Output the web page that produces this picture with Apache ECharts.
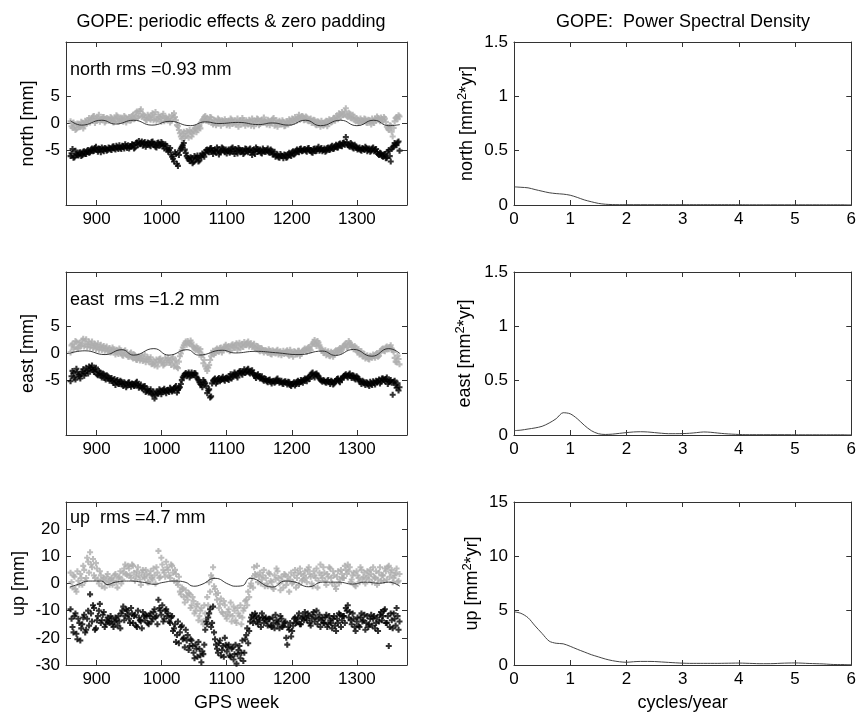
<!DOCTYPE html>
<html>
<head>
<meta charset="utf-8">
<script src="https://cdn.jsdelivr.net/npm/echarts@6/dist/echarts.min.js"></script>
<style>
html,body{margin:0;padding:0;background:#fff;}
#chart{width:859px;height:713px;}
</style>
</head>
<body>
<div id="chart"></div>
<script>
// ---------- DATA ----------
const weekStart = 860;    // first GPS week of sample set A
const weekStart2 = 861.5; // first GPS week of sample set B
const weekStep = 3;       // sampling step (weeks)
const weekTicks = [900, 1000, 1100, 1200, 1300];

const northGray = [
 0.4,-0.8,-0.3,-1.0,-0.2,-0.6,0.1,-0.4,0.3,0.6,
 0.2,0.9,1.4,0.5,1.1,0.3,0.8,1.2,0.4,0.9,
 0.6,1.0,0.2,0.8,1.3,0.5,0.9,0.3,1.1,0.7,
 1.2,0.6,1.6,0.9,2.2,1.4,2.6,1.8,1.0,0.6,
 1.3,0.7,1.9,1.2,0.5,1.6,0.9,1.4,0.4,1.1,
 0.8,0.2,1.5,1.9,0.6,-0.5,-1.8,-2.8,-1.5,-2.3,
 -1.9,-1.2,-2.4,-1.4,-0.8,-1.2,-0.5,0.2,0.8,1.4,
 0.9,0.3,1.1,-0.2,0.5,0.0,0.7,-0.4,0.3,0.8,
 -0.3,0.4,0.9,-0.1,0.6,0.2,-0.6,0.5,1.0,0.1,
 0.6,-0.2,0.3,0.9,-0.5,0.4,0.8,-0.1,0.5,1.1,
 0.2,0.7,-0.3,0.4,1.0,0.1,-0.6,0.5,-0.2,0.3,
 -0.4,0.2,0.8,0.1,0.6,1.2,0.5,1.6,0.9,1.3,
 0.7,1.1,0.4,0.9,0.2,0.6,-0.3,0.3,-0.6,0.1,
 -0.2,0.5,0.0,0.6,0.3,1.0,1.4,0.8,1.7,2.1,
 1.6,2.8,1.2,1.8,0.9,1.3,0.4,0.8,0.1,0.6,
 0.3,0.8,0.1,0.6,-0.2,0.4,0.9,1.3,0.7,1.1,
 0.5,0.9,-0.6,-1.2,-0.4,-2.4,0.4,1.2,1.5
];
const northGray2 = [
 -0.5,0.2,-1.2,0.0,-0.7,0.3,-0.9,0.5,0.0,1.0,
 0.6,1.3,0.1,0.8,1.6,0.7,1.2,0.2,1.0,0.5,
 1.2,0.4,0.9,1.5,0.3,1.1,0.6,1.4,0.2,0.9,
 0.5,1.4,0.8,2.0,1.1,2.3,1.2,1.5,0.7,1.6,
 0.9,1.5,0.6,2.1,0.8,1.2,0.3,1.8,1.0,0.6,
 1.3,0.5,1.0,1.2,-0.3,-1.2,-2.4,-1.9,-2.6,-1.4,
 -2.6,-1.6,-1.9,-0.9,-1.6,-0.4,-0.9,0.6,1.2,0.5,
 0.4,1.2,0.2,0.7,-0.3,0.9,0.2,0.6,0.1,0.4,
 0.3,-0.4,0.7,0.2,-0.2,0.9,0.3,-0.2,0.6,-0.4,
 0.2,0.7,-0.4,0.5,0.2,0.9,-0.3,0.6,0.1,0.4,
 -0.2,0.5,0.1,0.8,-0.4,0.6,0.2,-0.1,0.6,-0.5,
 0.4,-0.2,0.5,0.9,0.3,0.8,1.1,0.7,1.4,0.6,
 1.3,0.5,0.8,0.1,0.7,-0.2,0.4,0.0,0.5,-0.4,
 0.3,-0.5,0.8,0.2,0.9,0.5,1.1,1.9,1.2,1.5,
 2.2,1.4,2.0,1.0,1.6,0.7,1.0,0.2,0.9,0.3,
 0.9,0.2,0.7,0.3,0.9,0.1,0.6,1.0,0.4,0.8,
 1.2,0.3,-0.9,-0.3,-1.5,-0.8,1.0,0.8,1.3
];
const northBlack = [
 -6.0,-4.7,-6.2,-5.6,-5.9,-5.3,-5.8,-5.1,-5.6,-4.9,
 -5.3,-4.6,-5.0,-4.3,-5.2,-4.7,-4.4,-5.1,-4.6,-4.9,
 -4.5,-4.9,-4.2,-4.8,-4.4,-4.0,-4.7,-4.3,-3.8,-4.5,
 -4.6,-4.2,-3.9,-4.4,-3.5,-3.2,-3.7,-4.1,-3.4,-3.9,
 -3.6,-4.2,-3.3,-3.8,-4.4,-3.5,-4.0,-3.7,-4.6,-4.1,
 -5.2,-4.5,-6.1,-7.0,-5.6,-7.8,-5.0,-4.3,-3.6,-5.4,
 -6.3,-6.9,-6.4,-7.1,-6.6,-5.9,-6.8,-6.2,-5.7,-5.4,
 -4.8,-5.3,-4.5,-5.6,-5.0,-4.4,-5.7,-5.1,-4.6,-5.3,
 -5.5,-4.8,-5.2,-4.4,-5.6,-5.0,-4.5,-5.3,-4.9,-5.4,
 -4.7,-5.3,-4.6,-5.8,-5.0,-4.4,-5.2,-4.8,-5.5,-4.9,
 -5.2,-4.6,-5.4,-5.0,-5.6,-6.1,-5.7,-6.3,-5.9,-6.4,
 -5.8,-6.2,-5.4,-6.0,-5.1,-5.5,-4.8,-5.3,-4.6,-5.0,
 -4.7,-5.2,-4.5,-4.9,-5.4,-4.6,-5.0,-4.3,-4.8,-5.1,
 -4.6,-5.0,-4.4,-4.8,-4.1,-4.6,-3.9,-4.4,-3.7,-4.2,
 -3.5,-2.5,-3.9,-4.3,-3.8,-4.6,-4.2,-4.8,-4.4,-5.0,
 -4.7,-4.3,-5.1,-4.6,-5.0,-4.4,-4.9,-5.3,-5.8,-5.5,
 -6.1,-5.6,-6.3,-4.9,-7.0,-4.4,-3.6,-4.0,-3.3
];
const northBlack2 = [
 -5.5,-6.3,-5.0,-5.8,-5.4,-6.0,-5.2,-5.6,-5.0,-5.4,
 -4.8,-5.1,-4.5,-4.9,-4.6,-5.3,-4.8,-4.5,-5.0,-4.4,
 -4.8,-4.3,-4.6,-4.1,-4.7,-4.5,-4.1,-4.6,-4.2,-4.0,
 -4.3,-3.8,-4.6,-3.6,-4.0,-3.8,-3.3,-3.6,-4.3,-3.5,
 -4.0,-3.4,-3.9,-4.3,-3.6,-4.1,-3.4,-4.2,-3.8,-4.8,
 -4.9,-5.7,-6.5,-5.3,-7.4,-5.8,-4.6,-4.0,-4.8,-6.0,
 -6.6,-6.2,-7.3,-6.0,-6.3,-7.0,-6.0,-5.5,-6.1,-4.9,
 -5.2,-4.6,-5.1,-4.9,-5.4,-4.8,-5.3,-4.4,-5.0,-4.8,
 -5.0,-5.4,-4.6,-5.1,-4.7,-5.5,-4.8,-5.0,-5.6,-4.6,
 -5.1,-4.8,-5.3,-4.9,-5.6,-4.7,-5.0,-5.4,-4.6,-5.2,
 -4.9,-5.3,-4.8,-5.7,-5.2,-5.9,-6.2,-5.6,-6.0,-5.7,
 -6.3,-5.6,-5.8,-5.3,-5.7,-5.0,-5.2,-4.7,-5.1,-4.8,
 -5.0,-4.6,-5.0,-5.3,-4.7,-5.1,-4.6,-5.0,-4.5,-4.9,
 -5.2,-4.5,-4.9,-4.3,-4.7,-4.2,-4.4,-3.8,-4.1,-3.6,
 -3.9,-3.4,-4.1,-3.6,-4.4,-3.9,-4.5,-4.6,-4.9,-4.5,
 -4.9,-4.5,-4.8,-5.2,-4.6,-5.1,-4.7,-5.6,-5.4,-6.0,
 -5.7,-6.4,-5.2,-6.0,-4.7,-4.1,-3.9,-3.5,-5.0
];
const eastGray = [
 0.2,1.8,1.2,2.1,0.9,1.6,2.4,1.3,2.6,1.7,
 1.1,2.2,1.5,0.8,1.9,1.2,0.6,1.4,0.9,0.4,
 1.0,0.3,0.8,-0.2,0.5,0.9,0.1,-0.4,0.6,-0.3,
 -0.6,0.2,-0.9,-0.3,-1.2,-0.5,-0.8,-1.4,-0.2,-1.0,
 -1.5,-0.7,-1.9,-2.2,-1.1,-1.7,-0.9,-1.4,-2.0,-1.2,
 -0.8,-1.6,-1.0,-2.4,-1.3,-2.7,-0.5,0.6,1.5,2.2,
 2.3,1.7,2.0,1.2,0.6,1.0,0.3,-0.6,-1.8,-2.4,
 -3.2,-2.1,-0.5,0.5,0.1,0.9,0.3,1.1,0.6,1.3,
 0.8,1.4,0.6,1.7,1.0,1.9,1.3,0.9,1.8,2.1,
 1.5,2.2,1.7,1.2,1.8,0.8,1.3,0.4,0.9,0.2,
 0.6,0.1,0.5,-0.2,0.4,0.0,0.7,0.2,-0.3,0.5,
 0.1,0.6,-0.4,0.2,-0.6,0.3,-0.2,0.5,-0.1,0.4,
 0.9,0.3,1.2,0.6,1.8,2.5,1.4,2.0,1.1,0.5,
 0.2,-0.3,0.4,-0.5,0.1,-0.2,0.6,0.3,1.0,0.7,
 1.4,1.9,1.2,2.0,1.5,0.8,1.1,0.3,-0.2,0.4,
 -0.5,-0.9,-0.3,-1.1,-0.6,-0.2,-0.8,0.1,-0.4,0.5,
 0.9,0.4,1.3,0.8,1.5,0.6,-0.8,-1.6,-1.0
];
const eastGray2 = [
 1.5,0.8,2.3,1.0,2.0,1.4,2.7,1.9,1.2,2.2,
 1.6,1.0,1.8,1.3,0.7,1.6,1.0,0.5,1.3,0.7,
 0.2,1.1,0.4,0.7,-0.1,0.6,-0.3,0.4,0.0,-0.6,
 0.0,-0.7,-0.2,-1.1,-0.6,-1.3,-0.4,-1.0,-1.6,-0.7,
 -1.1,-2.0,-1.3,-1.6,-2.4,-1.0,-1.6,-2.2,-0.8,-1.7,
 -1.3,-2.1,-0.7,-1.8,-2.5,-1.5,0.0,1.1,1.9,1.6,
 1.9,2.4,1.4,0.9,1.3,0.5,0.8,-0.2,-1.2,-2.8,
 -2.6,-1.2,0.0,-0.2,0.7,0.4,1.0,0.2,0.9,1.6,
 1.2,0.4,1.5,1.1,1.6,0.7,2.0,1.5,1.2,1.6,
 2.0,1.3,1.9,1.5,1.0,1.4,0.6,1.0,0.5,0.6,
 0.3,0.8,-0.1,0.6,0.2,0.5,-0.2,0.4,0.1,-0.1,
 0.4,-0.2,0.7,-0.1,0.4,0.0,0.5,-0.4,0.3,0.7,
 0.5,1.0,0.8,1.5,2.1,1.7,2.3,1.5,0.8,0.1,
 0.6,0.0,-0.4,0.3,-0.6,0.4,0.1,0.8,0.4,1.2,
 1.7,1.1,2.3,1.6,1.2,1.4,0.5,0.8,0.0,-0.5,
 -0.1,-0.7,-1.0,-0.4,-0.8,-0.5,-0.1,-0.6,0.2,0.8,
 0.5,1.1,0.9,1.2,0.9,0.3,-1.5,-0.4,-2.0
];
const eastBlack = [
 -5.1,-3.2,-4.4,-2.8,-3.9,-4.6,-3.3,-4.1,-2.6,-3.7,
 -3.0,-2.2,-3.4,-2.6,-4.0,-3.5,-4.4,-3.8,-4.8,-4.2,
 -5.0,-4.5,-5.4,-5.8,-4.9,-5.6,-5.2,-6.0,-5.5,-5.9,
 -5.3,-6.1,-5.6,-5.9,-5.2,-6.3,-5.7,-6.5,-6.0,-6.8,
 -7.2,-6.6,-7.6,-8.3,-7.0,-7.4,-6.8,-7.1,-6.5,-7.3,
 -6.8,-6.3,-7.0,-6.5,-6.0,-6.7,-6.2,-4.9,-4.1,-3.6,
 -3.8,-4.4,-3.5,-4.0,-3.7,-4.6,-5.3,-5.8,-4.9,-5.5,
 -7.3,-6.6,-7.9,-5.0,-4.6,-5.2,-4.5,-4.9,-4.3,-5.0,
 -4.4,-4.9,-3.8,-4.3,-3.5,-4.1,-3.6,-3.2,-3.9,-2.9,
 -3.4,-2.8,-3.7,-3.1,-3.9,-4.5,-3.8,-4.6,-4.2,-5.0,
 -4.7,-5.3,-4.8,-5.5,-5.0,-5.2,-4.6,-5.4,-5.0,-5.6,
 -5.1,-5.7,-5.3,-6.0,-5.5,-5.9,-5.2,-5.6,-4.9,-5.4,
 -4.6,-5.1,-4.3,-4.0,-3.5,-4.4,-3.7,-4.2,-4.8,-5.2,
 -5.0,-5.4,-4.9,-5.6,-5.2,-5.5,-5.0,-4.6,-5.3,-4.8,
 -4.2,-3.8,-4.4,-3.7,-4.5,-4.1,-4.8,-4.4,-5.0,-5.6,
 -5.2,-5.8,-5.4,-6.0,-5.5,-5.1,-5.7,-5.3,-4.8,-5.2,
 -4.6,-5.1,-4.4,-5.3,-4.9,-7.6,-5.0,-6.3,-6.8
];
const eastBlack2 = [
 -4.2,-3.6,-4.8,-3.4,-4.2,-3.8,-2.9,-3.6,-3.2,-2.4,
 -2.6,-3.1,-2.9,-3.8,-3.2,-4.1,-3.7,-4.5,-4.0,-4.6,
 -4.6,-5.1,-4.7,-5.2,-5.6,-5.0,-5.7,-5.3,-6.2,-5.4,
 -5.8,-5.5,-6.0,-5.4,-5.8,-6.0,-6.4,-6.1,-7.1,-6.6,
 -6.9,-7.4,-7.0,-7.7,-7.3,-6.6,-7.5,-6.7,-7.0,-6.7,
 -7.1,-6.6,-6.8,-6.2,-7.2,-6.4,-5.6,-4.4,-3.8,-4.2,
 -3.5,-4.1,-3.9,-3.6,-4.3,-4.9,-5.6,-6.2,-5.2,-6.0,
 -6.8,-8.1,-5.5,-4.8,-5.5,-4.7,-5.1,-4.6,-4.8,-4.5,
 -4.7,-4.2,-4.6,-3.9,-3.8,-4.4,-3.3,-3.7,-3.3,-3.6,
 -3.0,-3.5,-3.3,-3.6,-4.2,-4.0,-4.3,-4.4,-4.8,-4.6,
 -5.1,-4.9,-5.2,-5.1,-5.4,-4.8,-5.1,-5.2,-5.5,-5.2,
 -5.4,-5.2,-5.8,-5.6,-5.3,-5.6,-5.0,-5.3,-5.1,-4.9,
 -4.8,-4.5,-4.7,-3.7,-4.1,-3.8,-4.0,-4.6,-5.0,-4.9,
 -5.3,-5.0,-5.3,-5.0,-5.7,-5.1,-4.7,-5.1,-4.6,-4.4,
 -4.0,-4.2,-3.9,-4.2,-4.0,-4.6,-4.2,-4.7,-5.3,-5.0,
 -5.5,-5.3,-5.7,-5.2,-5.8,-5.4,-5.0,-5.1,-5.5,-4.6,
 -4.9,-4.7,-5.6,-5.0,-5.4,-5.2,-5.8,-5.5,-6.2
];
const upGray = [
 4.0,-1.5,2.5,-3.0,1.0,3.5,-0.5,5.0,2.0,8.0,
 11.5,6.0,3.0,7.5,1.5,4.5,-1.0,2.0,0.5,3.5,
 -0.5,2.0,1.0,3.5,-1.5,2.5,0.0,4.0,7.0,3.0,
 5.5,2.0,6.5,1.0,4.5,3.0,-0.5,5.0,2.0,3.5,
 0.5,4.5,1.5,3.0,6.0,12.0,2.5,7.0,4.0,8.0,
 5.0,2.0,6.5,1.0,3.5,-0.5,-3.0,-1.5,-5.0,-2.5,
 -6.0,-4.0,-8.0,-6.5,-10.0,-7.5,-12.0,-9.0,-15.0,-11.0,
 -5.0,0.5,3.0,6.0,-2.0,-6.0,-9.0,-5.5,-11.0,-8.0,
 -13.0,-9.5,-7.0,-12.0,-10.0,-14.5,-11.0,-8.0,-12.5,-9.0,
 -6.0,-3.0,-1.0,2.0,6.0,3.0,0.5,4.0,1.5,5.0,
 2.0,-1.0,3.5,0.5,-2.0,1.5,4.5,0.0,2.5,-1.5,
 3.0,1.0,-3.0,4.0,0.5,5.0,2.0,-0.5,3.5,1.5,
 4.5,0.5,6.0,2.5,-1.0,3.0,5.5,1.0,7.0,2.0,
 4.0,-0.5,2.5,5.5,0.0,3.0,-2.0,4.5,1.5,3.5,
 2.0,5.0,7.0,6.0,1.5,4.0,-1.0,3.0,0.5,5.0,
 2.5,0.0,4.5,1.5,3.5,6.0,2.0,-0.5,4.0,1.0,
 3.0,5.5,1.5,6.5,4.0,0.5,3.0,5.5,1.0
];
const upGray2 = [
 0.5,3.0,-2.0,4.5,-0.5,2.0,6.5,1.0,9.5,4.0,
 7.0,9.0,2.0,5.5,0.0,3.0,1.5,-1.5,2.5,1.0,
 1.5,-0.5,3.0,0.5,2.0,4.5,1.5,5.5,3.5,6.5,
 3.0,7.0,4.0,2.5,6.0,1.5,4.0,2.5,5.0,0.5,
 3.0,2.0,5.5,0.0,4.0,2.0,9.5,5.0,2.5,6.0,
 3.0,7.0,4.0,5.0,0.5,2.5,-4.0,-2.0,-7.0,-4.5,
 -3.5,-9.0,-5.0,-11.0,-8.5,-13.5,-10.0,-14.0,-8.0,-13.0,
 -8.0,-3.0,2.0,-1.0,-4.0,-3.5,-7.5,-10.5,-6.5,-12.0,
 -10.5,-11.5,-14.0,-8.5,-13.5,-9.0,-12.0,-15.0,-10.0,-6.5,
 -8.0,-5.0,0.0,-1.5,3.5,6.5,2.5,0.0,3.0,-1.0,
 0.0,4.0,1.0,-1.5,3.0,5.5,2.0,-2.5,1.0,3.5,
 -0.5,2.5,1.5,0.0,3.0,-1.5,4.0,5.5,1.0,3.0,
 2.0,5.0,3.5,0.0,4.5,2.0,-1.5,4.0,3.0,6.0,
 1.0,3.5,6.0,2.0,4.5,-1.0,2.5,0.0,5.0,2.0,
 6.5,3.5,4.5,0.5,3.0,-0.5,4.5,2.0,6.0,1.5,
 4.0,2.0,3.0,5.0,0.5,2.5,4.5,1.5,6.0,3.0,
 1.0,4.5,6.0,2.5,5.0,2.0,4.0,0.5,3.5
];
const upBlack = [
 -9.5,-16.0,-12.0,-18.5,-13.0,-21.0,-15.0,-11.5,-17.0,-10.0,
 -4.0,-14.0,-9.0,-16.5,-12.0,-7.5,-13.5,-10.5,-15.0,-12.5,
 -14.5,-13.0,-16.0,-12.5,-15.5,-14.0,-11.0,-8.5,-12.0,-10.0,
 -13.0,-9.0,-14.5,-11.5,-16.0,-12.5,-14.0,-10.5,-13.5,-12.0,
 -15.0,-11.0,-13.0,-9.5,-12.0,-6.0,-10.0,-8.0,-13.0,-9.5,
 -11.0,-14.5,-12.0,-16.5,-21.5,-14.0,-18.0,-15.5,-20.0,-17.0,
 -19.0,-23.0,-21.0,-25.5,-22.5,-27.0,-24.0,-29.0,-26.0,-17.0,
 -15.0,-11.0,-16.0,-8.5,-20.5,-24.0,-22.0,-26.5,-23.0,-20.0,
 -25.0,-22.5,-27.0,-23.5,-26.0,-29.5,-24.5,-27.5,-21.0,-25.5,
 -19.0,-22.0,-14.0,-11.5,-13.0,-12.0,-15.0,-13.5,-11.0,-14.5,
 -12.5,-15.5,-13.0,-16.0,-14.5,-11.5,-15.0,-16.5,-13.0,-15.5,
 -14.0,-22.5,-17.0,-19.5,-15.5,-12.5,-14.0,-11.0,-15.0,-12.0,
 -10.5,-13.5,-12.0,-15.5,-11.5,-14.0,-10.0,-13.0,-16.0,-12.5,
 -14.5,-11.5,-15.0,-13.5,-16.5,-12.0,-17.5,-14.5,-11.5,-13.5,
 -12.0,-9.0,-8.0,-10.5,-15.0,-13.0,-17.5,-12.5,-16.0,-11.0,
 -13.5,-17.0,-12.0,-15.0,-11.5,-13.0,-16.5,-12.5,-14.0,-10.5,
 -12.0,-9.5,-14.5,-23.0,-11.0,-16.5,-13.0,-9.0,-17.0
];
const upBlack2 = [
 -13.0,-18.0,-11.0,-20.5,-14.5,-16.5,-12.5,-18.0,-13.0,-15.5,
 -11.0,-8.0,-17.0,-13.5,-10.0,-14.5,-11.5,-16.0,-13.5,-14.0,
 -12.0,-15.0,-14.0,-13.5,-12.0,-16.5,-10.0,-13.5,-9.5,-11.5,
 -14.5,-11.0,-12.0,-15.5,-10.0,-13.5,-16.5,-12.0,-11.5,-14.5,
 -12.0,-14.0,-10.5,-12.5,-15.0,-9.0,-11.5,-14.0,-10.0,-12.0,
 -14.0,-12.5,-17.5,-15.0,-19.0,-22.0,-16.0,-20.5,-23.5,-21.0,
 -24.5,-20.5,-23.0,-27.5,-24.0,-21.5,-26.5,-25.0,-22.5,-14.0,
 -12.5,-9.5,-14.5,-18.0,-22.5,-25.5,-21.0,-24.5,-27.0,-22.5,
 -23.5,-26.5,-24.0,-28.0,-22.5,-26.0,-23.0,-25.5,-28.5,-20.5,
 -16.5,-17.5,-12.5,-14.5,-11.0,-14.0,-12.5,-16.0,-12.5,-13.0,
 -14.0,-13.0,-15.5,-12.5,-16.5,-13.5,-14.0,-12.0,-16.0,-14.5,
 -20.0,-16.0,-14.5,-17.5,-13.0,-14.5,-12.5,-15.0,-13.0,-13.5,
 -12.5,-11.0,-14.5,-13.0,-10.5,-12.5,-15.0,-11.5,-13.5,-14.5,
 -12.5,-16.0,-12.0,-14.5,-13.0,-15.5,-13.0,-11.0,-16.0,-12.0,
 -14.5,-10.0,-12.5,-13.5,-11.0,-16.0,-14.0,-15.5,-12.5,-14.0,
 -11.5,-14.5,-16.0,-13.0,-15.5,-12.0,-14.5,-17.5,-11.5,-13.5,
 -10.0,-14.5,-12.0,-16.0,-13.5,-11.0,-15.5,-12.0,-14.0
];

// periodic model curves
const northModelWeeks = [860,877,908,929,957,985,1013,1044,1067,1088,1118,1149,1170,1195,1221,1244,1275,1300,1326,1349,1366];
const northModel      = [0.5,-0.3,0.6,-0.1,0.6,-0.3,0.4,-0.4,0.3,0.0,0.2,-0.2,0.1,-0.3,0.6,-0.4,0.6,-0.4,0.6,-0.4,-0.2];
const eastModelWeeks  = [860,882,913,939,957,988,1011,1039,1057,1093,1113,1144,1175,1211,1247,1267,1295,1323,1349,1366];
const eastModel       = [0.1,0.5,-0.2,0.7,-0.3,0.9,-0.3,0.7,-0.3,0.6,0.1,0.4,0.15,-0.2,0.45,-0.35,0.75,-0.5,0.9,0.0];
const upModelWeeks    = [859,872,888,908,916,929,949,970,990,1000,1021,1036,1049,1062,1082,1103,1113,1124,1136,1170,1190,1205,1226,1247,1272,1293,1313,1334,1349,1366];
const upModel         = [-1.3,-0.3,0.9,0.9,-0.4,0.5,0.9,0.5,-0.3,0.3,0.9,0.5,-1.0,-0.3,1.9,-0.3,-1.0,-0.8,1.9,-1.3,0.9,0.5,-1.2,0.5,0.5,-0.2,0.5,0.1,0.5,-1.0];

// power spectral density, frequency grid 0..6 cycles/year
const freqStart = 0, freqStep = 0.125;
const northPSD = [0.167,0.163,0.158,0.142,0.127,0.113,0.105,0.100,0.090,0.070,0.047,0.030,0.015,0.007,0.004,0.003,0.003,0.003,0.003,0.003,0.003,0.003,0.003,0.003,0.003,0.003,0.003,0.003,0.003,0.003,0.003,0.003,0.003,0.002,0.002,0.002,0.002,0.002,0.002,0.002,0.002,0.002,0.002,0.002,0.002,0.002,0.002,0.002,0.002];
const eastPSD  = [0.040,0.045,0.055,0.065,0.080,0.110,0.150,0.205,0.195,0.150,0.090,0.040,0.012,0.005,0.008,0.015,0.022,0.028,0.030,0.028,0.022,0.016,0.012,0.012,0.013,0.016,0.022,0.028,0.025,0.018,0.012,0.008,0.005,0.003,0.003,0.003,0.003,0.003,0.003,0.003,0.002,0.002,0.002,0.002,0.002,0.002,0.002,0.002,0.002];
const upPSD    = [4.9,4.75,4.35,3.6,2.9,2.2,2.0,1.95,1.72,1.45,1.2,0.95,0.75,0.55,0.4,0.3,0.25,0.3,0.33,0.33,0.32,0.28,0.24,0.2,0.17,0.15,0.15,0.15,0.15,0.15,0.16,0.17,0.18,0.16,0.14,0.12,0.12,0.13,0.16,0.18,0.19,0.17,0.14,0.12,0.1,0.06,0.04,0.04,0.05];

// ---------- CHART ----------
const FONT = '"Liberation Sans", Arial, Helvetica, sans-serif';
const AX = '#333';
const TICK_FS = 17, TEXT_FS = 18;
const PLUS = 'path://M2.6,0H5.4V2.6H8V5.4H5.4V8H2.6V5.4H0V2.6H2.6Z';
const plainNum = v => String(v);

const weekPts = (arr, start) => arr.map((v, i) => [start + i * weekStep, v]);
const twoSets = (a, b) => weekPts(a, weekStart).concat(weekPts(b, weekStart2));
const zipPts = (xs, ys) => xs.map((x, i) => [x, ys[i]]);
const freqPts = arr => arr.map((v, i) => [freqStart + i * freqStep, v]);

const chart = echarts.init(document.getElementById('chart'), null, {renderer: 'canvas'});

const gridTops = [42, 272, 502];
const grids = [];
gridTops.forEach(t => {
  grids.push({left: 66, top: t, width: 341, height: 163});
  grids.push({left: 514, top: t, width: 341, height: 163});
});

const labelBase = {color: '#000', fontSize: TICK_FS, fontFamily: FONT, margin: 6, formatter: plainNum};
const nameBase = {color: '#000', fontSize: TEXT_FS, fontFamily: FONT};

function baseAxis(extra) {
  return Object.assign({
    type: 'value',
    axisLine: {show: true, onZero: false, lineStyle: {color: AX, width: 1}},
    axisTick: {show: true, inside: true, length: 5, lineStyle: {color: AX, width: 1}},
    axisLabel: Object.assign({show: true}, labelBase),
    splitLine: {show: false}
  }, extra);
}

const xAxes = [], yAxes = [];
const leftY = [
  {min: -15, max: 15, ticks: [-5, 0, 5], name: 'north [mm]', gap: 29},
  {min: -15, max: 15, ticks: [-5, 0, 5], name: 'east [mm]', gap: 29},
  {min: -30, max: 30, ticks: [-30, -20, -10, 0, 10, 20], name: 'up [mm]', gap: 38}
];
const rightY = [
  {min: 0, max: 1.5, interval: 0.5, name: 'north [mm{s|2}*yr]', gap: 36},
  {min: 0, max: 1.5, interval: 0.5, name: 'east [mm{s|2}*yr]', gap: 38},
  {min: 0, max: 15, interval: 5, name: 'up [mm{s|2}*yr]', gap: 31}
];
const nameStyleSup = Object.assign({}, nameBase, {
  rich: {s: {fontSize: 13, fontFamily: FONT, color: '#000', verticalAlign: 'top', padding: [0, 0, 9, 0]}}
});

for (let r = 0; r < 3; r++) {
  const gL = 2 * r, gR = 2 * r + 1;
  xAxes.push(baseAxis({
    gridIndex: gL, position: 'bottom', min: 853, max: 1377,
    axisTick: {show: true, inside: true, length: 5, lineStyle: {color: AX}, customValues: weekTicks},
    axisLabel: Object.assign({customValues: weekTicks}, labelBase),
    name: r === 2 ? 'GPS week' : '', nameLocation: 'middle', nameGap: 29, nameTextStyle: nameBase
  }));
  xAxes.push(baseAxis({
    gridIndex: gL, position: 'top', min: 853, max: 1377,
    axisTick: {show: true, inside: true, length: 5, lineStyle: {color: AX}, customValues: weekTicks},
    axisLabel: {show: false}
  }));
  xAxes.push(baseAxis({
    gridIndex: gR, position: 'bottom', min: 0, max: 6, interval: 1,
    name: r === 2 ? 'cycles/year' : '', nameLocation: 'middle', nameGap: 29, nameTextStyle: nameBase
  }));
  xAxes.push(baseAxis({
    gridIndex: gR, position: 'top', min: 0, max: 6, interval: 1, axisLabel: {show: false}
  }));
  const ly = leftY[r];
  yAxes.push(baseAxis({
    gridIndex: gL, position: 'left', min: ly.min, max: ly.max,
    axisTick: {show: true, inside: true, length: 5, lineStyle: {color: AX}, customValues: ly.ticks},
    axisLabel: Object.assign({customValues: ly.ticks}, labelBase),
    name: ly.name, nameLocation: 'middle', nameGap: ly.gap, nameRotate: 90, nameTextStyle: nameBase
  }));
  yAxes.push(baseAxis({
    gridIndex: gL, position: 'right', min: ly.min, max: ly.max,
    axisTick: {show: true, inside: true, length: 5, lineStyle: {color: AX}, customValues: ly.ticks},
    axisLabel: {show: false}
  }));
  const ry = rightY[r];
  yAxes.push(baseAxis({
    gridIndex: gR, position: 'left', min: ry.min, max: ry.max, interval: ry.interval,
    name: ry.name, nameLocation: 'middle', nameGap: ry.gap, nameRotate: 90, nameTextStyle: nameStyleSup
  }));
  yAxes.push(baseAxis({
    gridIndex: gR, position: 'right', min: ry.min, max: ry.max, interval: ry.interval, axisLabel: {show: false}
  }));
}

const grayStyle = {color: '#acacac'};
const blackStyle = {color: '#000'};
function scatter(axisIdx, data, style) {
  return {type: 'scatter', xAxisIndex: axisIdx, yAxisIndex: axisIdx, data: data,
    symbol: PLUS, symbolSize: 6, itemStyle: style, silent: true, large: false};
}
function line(axisIdx, data, color, width, smooth) {
  return {type: 'line', xAxisIndex: axisIdx, yAxisIndex: axisIdx, data: data,
    showSymbol: false, smooth: smooth, lineStyle: {color: color, width: width}, silent: true};
}

const series = [
  scatter(0, twoSets(northGray, northGray2), grayStyle),
  line(0, zipPts(northModelWeeks, northModel), '#222', 0.9, 0.5),
  scatter(0, twoSets(northBlack, northBlack2), blackStyle),
  line(2, freqPts(northPSD), '#444', 1, 0.3),
  scatter(4, twoSets(eastGray, eastGray2), grayStyle),
  line(4, zipPts(eastModelWeeks, eastModel), '#222', 0.9, 0.5),
  scatter(4, twoSets(eastBlack, eastBlack2), blackStyle),
  line(6, freqPts(eastPSD), '#444', 1, 0.3),
  scatter(8, twoSets(upGray, upGray2), grayStyle),
  line(8, zipPts(upModelWeeks, upModel), '#222', 0.9, 0.5),
  scatter(8, twoSets(upBlack, upBlack2), blackStyle),
  line(10, freqPts(upPSD), '#444', 1, 0.3)
];

function txt(x, y, s, align) {
  return {type: 'text', x: x, y: y, silent: true,
    style: {text: s, fill: '#000', font: TEXT_FS + 'px ' + FONT, textAlign: align || 'left', textVerticalAlign: 'middle'}};
}

chart.setOption({
  backgroundColor: '#fff',
  animation: false,
  grid: grids,
  xAxis: xAxes,
  yAxis: yAxes,
  series: series,
  graphic: [
    txt(231, 22, 'GOPE: periodic effects & zero padding', 'center'),
    txt(683, 22, 'GOPE:  Power Spectral Density', 'center'),
    txt(70, 70, 'north rms =0.93 mm'),
    txt(70, 300, 'east  rms =1.2 mm'),
    txt(70, 518, 'up  rms =4.7 mm')
  ]
});
</script>
</body>
</html>
